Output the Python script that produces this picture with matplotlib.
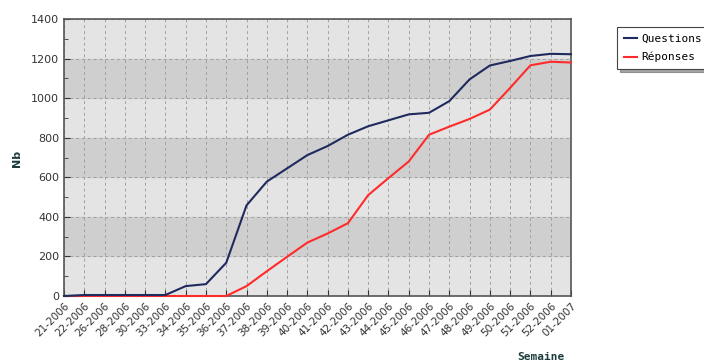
import matplotlib.pyplot as plt
import numpy as np

# weeks (x axis)
semaines = ['21-2006', '22-2006', '26-2006', '28-2006', '30-2006', '33-2006',
            '34-2006', '35-2006', '36-2006', '37-2006', '38-2006', '39-2006',
            '40-2006', '41-2006', '42-2006', '43-2006', '44-2006', '45-2006',
            '46-2006', '47-2006', '48-2006', '49-2006', '50-2006', '51-2006',
            '52-2006', '01-2007']
questions = [0, 5, 5, 5, 5, 5, 50, 60, 168, 458, 578, 645, 712, 758, 815, 858,
             888, 918, 926, 985, 1095, 1165, 1188, 1213, 1224, 1222]
reponses = [0, 0, 0, 0, 0, 0, 0, 0, 0, 50, 125, 198, 270, 316, 368, 510,
            596, 680, 815, 856, 895, 942, 1052, 1166, 1184, 1180]

fig = plt.figure(figsize=(7.04, 3.63), dpi=100)
ax = fig.add_axes([64/704, 1-296/363, (571-64)/704, (296-19)/363])

x = np.arange(len(semaines))

# alternating bands
ax.set_facecolor('#e4e4e4')
for lo in range(200, 1400, 400):
    ax.axhspan(lo, lo + 200, color='#cfcfcf', zorder=0)

ax.set_xlim(0, len(semaines) - 1)
ax.set_ylim(0, 1400)
ax.set_yticks(range(0, 1401, 200))
ax.set_yticks(range(100, 1400, 200), minor=True)
ax.set_xticks(x)
ax.set_xticklabels(semaines, rotation=45, ha='right', rotation_mode='anchor',
                   fontsize=7.5, color='#333333')
ax.tick_params(axis='y', labelsize=8, colors='#333333')
ax.tick_params(direction='in', length=4, color='#333333')
ax.tick_params(which='minor', direction='in', length=3, color='#333333')
ax.grid(True, linestyle=(0, (3, 3)), color='#a0a0a0', linewidth=0.7)
ax.set_axisbelow(True)
for s in ax.spines.values():
    s.set_color('#555555')
    s.set_linewidth(1.2)

ax.plot(x, reponses, color='#ff2b2b', lw=1.5, label='Réponses', zorder=3,
        clip_on=False)
ax.plot(x, questions, color='#1f2a5e', lw=1.5, label='Questions', zorder=4,
        clip_on=False)

fig.text(17/704, 1-158/363, 'Nb', rotation=90, fontsize=8, fontweight='bold',
         color='#1c3b3b', ha='center', va='center')
fig.text(541/704, 1-357/363, 'Semaine', fontsize=8, fontweight='bold',
         color='#1c3b3b', ha='center', va='center', family='DejaVu Sans Mono')

handles, labels = ax.get_legend_handles_labels()
leg = fig.legend(handles[::-1], labels[::-1], loc='upper left',
                 bbox_to_anchor=(617/704, 1-27/363),
                 prop={'family': 'DejaVu Sans Mono', 'size': 8},
                 fancybox=False, shadow=True, edgecolor='#444444',
                 handlelength=1.2, handletextpad=0.4, borderpad=0.6,
                 labelspacing=0.75, borderaxespad=0)
leg.get_frame().set_linewidth(0.8)

plt.savefig('out.png', dpi=100)
